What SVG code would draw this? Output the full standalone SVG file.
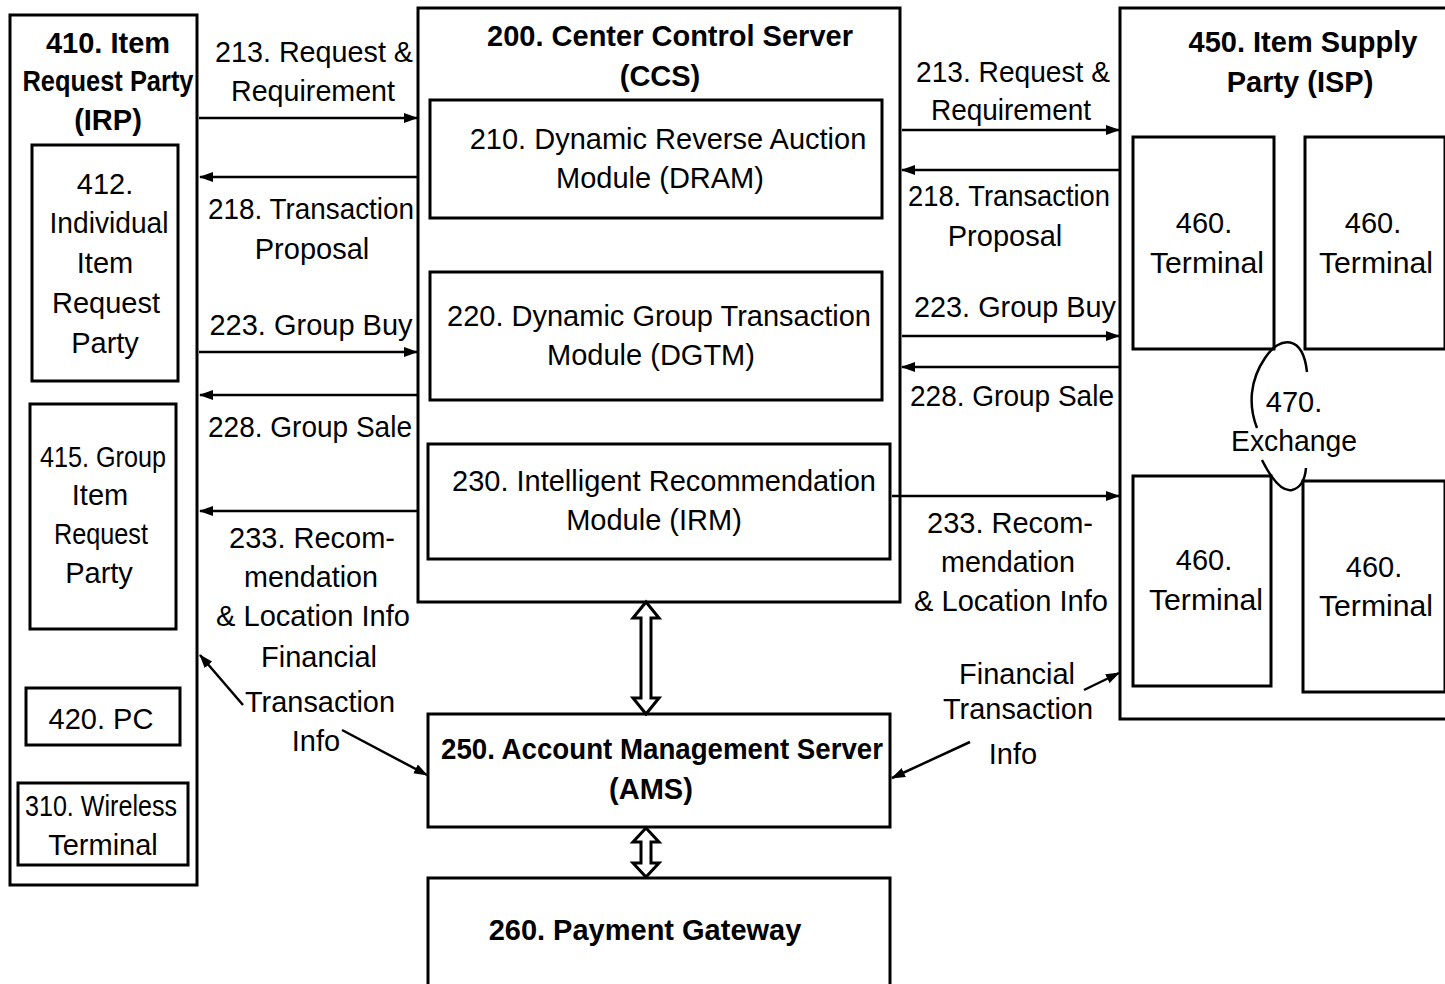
<svg xmlns="http://www.w3.org/2000/svg" width="1445" height="984" viewBox="0 0 1445 984">
<defs>
<marker id="ah" markerUnits="userSpaceOnUse" markerWidth="14" markerHeight="10" refX="13" refY="5" orient="auto">
<path d="M0,0 L14,5 L0,10 Z" fill="#000"/>
</marker>
<style>
.box{fill:#fff;stroke:#000;stroke-width:3}
.t{font-family:"Liberation Sans",Arial,sans-serif;font-size:29px;text-anchor:middle;fill:#000}
.b{font-weight:bold}
.c{stroke:#000;stroke-width:2.5;fill:none}
.a{marker-end:url(#ah)}
.dbl{fill:#fff;stroke:#000;stroke-width:3;stroke-linejoin:miter}
</style>
</defs>
<rect width="1445" height="984" fill="#fff"/>

<g id="irp">
<rect class="box" x="10" y="15" width="187" height="870"/>
<text class="t b" x="108" y="53">410. Item</text>
<text class="t b" x="108" y="91" textLength="171" lengthAdjust="spacingAndGlyphs">Request Party</text>
<text class="t b" x="108" y="130">(IRP)</text>
</g>
<g id="n412">
<rect class="box" x="32" y="145" width="146" height="236"/>
<text class="t" x="105" y="194">412.</text>
<text class="t" x="109" y="233" textLength="119" lengthAdjust="spacingAndGlyphs">Individual</text>
<text class="t" x="105" y="273">Item</text>
<text class="t" x="106" y="313">Request</text>
<text class="t" x="105" y="353">Party</text>
</g>
<g id="n415">
<rect class="box" x="30" y="404" width="146" height="225"/>
<text class="t" x="103" y="467" textLength="126" lengthAdjust="spacingAndGlyphs">415. Group</text>
<text class="t" x="100" y="505">Item</text>
<text class="t" x="101" y="544" textLength="94" lengthAdjust="spacingAndGlyphs">Request</text>
<text class="t" x="99" y="583">Party</text>
</g>
<g id="n420">
<rect class="box" x="26" y="688" width="154" height="57"/>
<text class="t" x="101" y="729">420. PC</text>
</g>
<g id="n310">
<rect class="box" x="18" y="783" width="170" height="82"/>
<text class="t" x="101" y="816" textLength="152" lengthAdjust="spacingAndGlyphs">310. Wireless</text>
<text class="t" x="103" y="855">Terminal</text>
</g>

<g id="ccs">
<rect class="box" x="418" y="8" width="482" height="594"/>
<text class="t b" x="670" y="46">200. Center Control Server</text>
<text class="t b" x="660" y="86">(CCS)</text>
</g>
<g id="n210">
<rect class="box" x="430" y="100" width="452" height="118"/>
<text class="t" x="668" y="149">210. Dynamic Reverse Auction</text>
<text class="t" x="660" y="188">Module (DRAM)</text>
</g>
<g id="n220">
<rect class="box" x="430" y="272" width="452" height="128"/>
<text class="t" x="659" y="326" textLength="424" lengthAdjust="spacingAndGlyphs">220. Dynamic Group Transaction</text>
<text class="t" x="651" y="365">Module (DGTM)</text>
</g>
<g id="n230">
<rect class="box" x="428" y="444" width="462" height="115"/>
<text class="t" x="664" y="491" textLength="424" lengthAdjust="spacingAndGlyphs">230. Intelligent Recommendation</text>
<text class="t" x="654" y="530">Module (IRM)</text>
</g>
<g id="ams">
<rect class="box" x="428" y="714" width="462" height="113"/>
<text class="t b" x="662" y="759" textLength="442" lengthAdjust="spacingAndGlyphs">250. Account Management Server</text>
<text class="t b" x="651" y="799">(AMS)</text>
</g>
<g id="pg">
<rect class="box" x="428" y="878" width="462" height="110"/>
<text class="t b" x="645" y="940">260. Payment Gateway</text>
</g>

<g id="isp">
<rect class="box" x="1120" y="8" width="330" height="711"/>
<text class="t b" x="1303" y="52">450. Item Supply</text>
<text class="t b" x="1300" y="92">Party (ISP)</text>
</g>
<g id="t1">
<rect class="box" x="1133" y="137" width="141" height="212"/>
<text class="t" x="1204" y="233">460.</text>
<text class="t" x="1207" y="273" textLength="114" lengthAdjust="spacingAndGlyphs">Terminal</text>
</g>
<g id="t2">
<rect class="box" x="1305" y="137" width="140" height="212"/>
<text class="t" x="1373" y="233">460.</text>
<text class="t" x="1376" y="273" textLength="114" lengthAdjust="spacingAndGlyphs">Terminal</text>
</g>
<g id="t3">
<rect class="box" x="1133" y="476" width="138" height="210"/>
<text class="t" x="1204" y="570">460.</text>
<text class="t" x="1206" y="610" textLength="114" lengthAdjust="spacingAndGlyphs">Terminal</text>
</g>
<g id="t4">
<rect class="box" x="1303" y="481" width="142" height="211"/>
<text class="t" x="1374" y="577">460.</text>
<text class="t" x="1376" y="616" textLength="114" lengthAdjust="spacingAndGlyphs">Terminal</text>
</g>
<g id="exchange">
<text class="t" x="1294" y="412">470.</text>
<text class="t" x="1294" y="451" textLength="126" lengthAdjust="spacingAndGlyphs">Exchange</text>
</g>

<g id="connectors">
<line class="c a" x1="199" y1="118" x2="417" y2="118"/>
<line class="c a" x1="417" y1="177" x2="200" y2="177"/>
<line class="c a" x1="199" y1="352" x2="417" y2="352"/>
<line class="c a" x1="417" y1="395" x2="200" y2="395"/>
<line class="c a" x1="417" y1="511" x2="200" y2="511"/>
<line class="c a" x1="902" y1="130" x2="1119" y2="130"/>
<line class="c a" x1="1119" y1="170" x2="902" y2="170"/>
<line class="c a" x1="902" y1="336" x2="1119" y2="336"/>
<line class="c a" x1="1119" y1="367" x2="902" y2="367"/>
<line class="c a" x1="892" y1="496" x2="1119" y2="496"/>
<line class="c a" x1="243" y1="705" x2="200" y2="655"/>
<line class="c a" x1="342" y1="730" x2="427" y2="775"/>
<line class="c a" x1="1084" y1="690" x2="1119" y2="673"/>
<line class="c a" x1="970" y1="742" x2="892" y2="778"/>
<polygon class="dbl" points="646,602 659,618 651,618 651,698 659,698 646,714 633,698 641,698 641,618 633,618"/>
<polygon class="dbl" points="646,828 659,842 651,842 651,863 659,863 646,877 633,863 641,863 641,842 633,842"/>
<path class="c" d="M1307,372 C1303,335 1280,335 1265,358 C1250,380 1248,405 1257,428"/>
<path class="c" d="M1262,460 C1272,480 1282,492 1292,490 C1300,488 1305,480 1306,468"/>

<text class="t" x="314" y="62" textLength="198" lengthAdjust="spacingAndGlyphs">213. Request &amp;</text>
<text class="t" x="313" y="101" textLength="164" lengthAdjust="spacingAndGlyphs">Requirement</text>
<text class="t" x="311" y="219" textLength="206" lengthAdjust="spacingAndGlyphs">218. Transaction</text>
<text class="t" x="312" y="259">Proposal</text>
<text class="t" x="311" y="335" textLength="203" lengthAdjust="spacingAndGlyphs">223. Group Buy</text>
<text class="t" x="310" y="437" textLength="204" lengthAdjust="spacingAndGlyphs">228. Group Sale</text>
<text class="t" x="312" y="548" textLength="166" lengthAdjust="spacingAndGlyphs">233. Recom-</text>
<text class="t" x="311" y="587" textLength="134" lengthAdjust="spacingAndGlyphs">mendation</text>
<text class="t" x="313" y="626" textLength="194" lengthAdjust="spacingAndGlyphs">&amp; Location Info</text>
<text class="t" x="319" y="667" textLength="116" lengthAdjust="spacingAndGlyphs">Financial</text>
<text class="t" x="320" y="712" textLength="150" lengthAdjust="spacingAndGlyphs">Transaction</text>
<text class="t" x="316" y="751">Info</text>

<text class="t" x="1013" y="82" textLength="194" lengthAdjust="spacingAndGlyphs">213. Request &amp;</text>
<text class="t" x="1011" y="120" textLength="160" lengthAdjust="spacingAndGlyphs">Requirement</text>
<text class="t" x="1009" y="206" textLength="202" lengthAdjust="spacingAndGlyphs">218. Transaction</text>
<text class="t" x="1005" y="246">Proposal</text>
<text class="t" x="1015" y="317" textLength="202" lengthAdjust="spacingAndGlyphs">223. Group Buy</text>
<text class="t" x="1012" y="406" textLength="204" lengthAdjust="spacingAndGlyphs">228. Group Sale</text>
<text class="t" x="1010" y="533" textLength="166" lengthAdjust="spacingAndGlyphs">233. Recom-</text>
<text class="t" x="1008" y="572" textLength="134" lengthAdjust="spacingAndGlyphs">mendation</text>
<text class="t" x="1011" y="611" textLength="194" lengthAdjust="spacingAndGlyphs">&amp; Location Info</text>
<text class="t" x="1017" y="684" textLength="116" lengthAdjust="spacingAndGlyphs">Financial</text>
<text class="t" x="1018" y="719" textLength="150" lengthAdjust="spacingAndGlyphs">Transaction</text>
<text class="t" x="1013" y="764">Info</text>
</g>
</svg>
